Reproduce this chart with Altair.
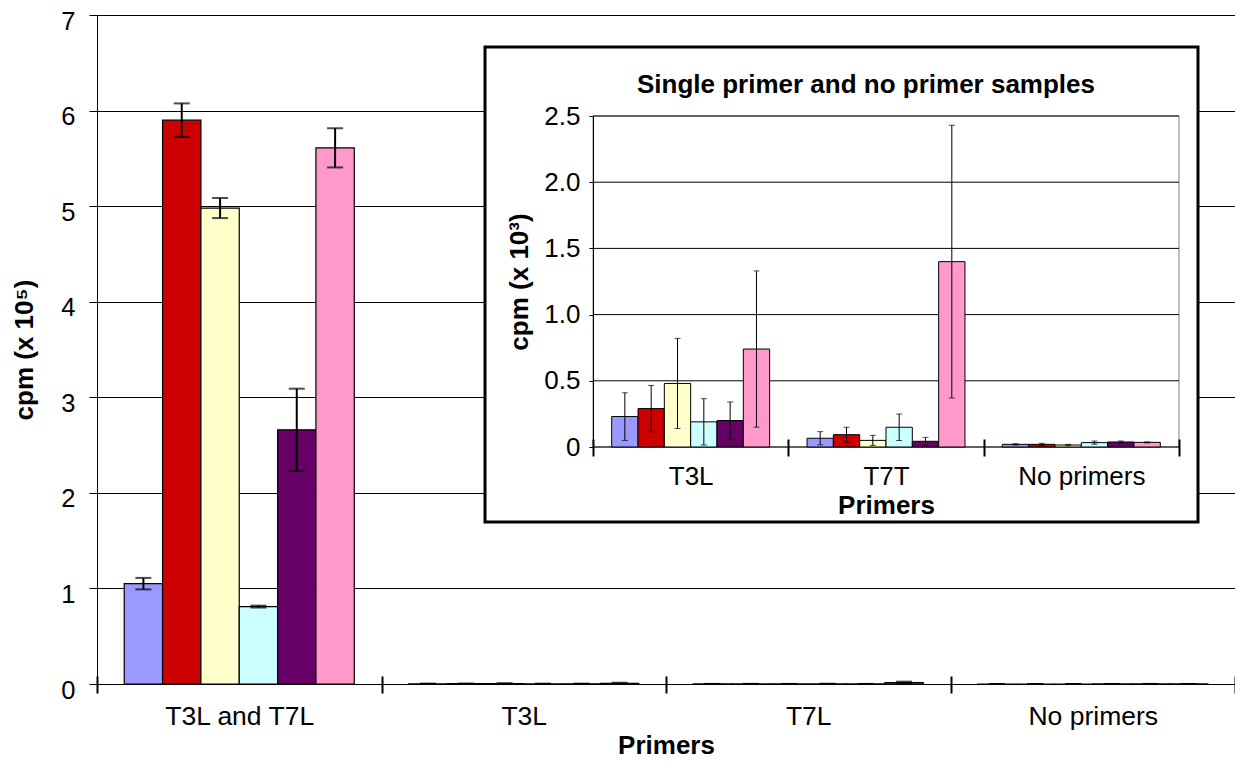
import altair as alt
import pandas as pd

FONT = "Liberation Sans"

series = ["Sample 1", "Sample 2", "Sample 3", "Sample 4", "Sample 5", "Sample 6"]
colors = ["#9999FF", "#CC0000", "#FFFFCC", "#CCFFFF", "#660066", "#FF99CC"]

# ---- main chart (cpm x 10^5) ----
main_categories = ["T3L and T7L", "T3L", "T7L", "No primers"]
main_t3l_t7l = [1.05, 5.90, 4.98, 0.81, 2.66, 5.61]
main_t3l_t7l_err = [0.06, 0.175, 0.105, 0.01, 0.43, 0.205]
main_t3l = [0.0023, 0.0029, 0.0048, 0.0019, 0.0020, 0.0074]
main_t3l_err = [0.0018, 0.0018, 0.0034, 0.0018, 0.0014, 0.0059]
main_t7l = [0.0007, 0.0009, 0.0005, 0.0015, 0.0004, 0.0140]
main_t7l_err = [0.0005, 0.0006, 0.0004, 0.0010, 0.0003, 0.0103]
main_none = [0.0002, 0.0002, 0.00015, 0.0003, 0.0004, 0.0003]
main_none_err = [0.00005, 0.00008, 0.00005, 0.00012, 0.00007, 0.00004]
main_ticks = [0, 1, 2, 3, 4, 5, 6, 7]

# ---- inset chart (cpm x 10^3) ----
inset_categories = ["T3L", "T7T", "No primers"]
inset_t3l = [0.23, 0.29, 0.48, 0.19, 0.20, 0.74]
inset_t3l_err = [0.18, 0.175, 0.34, 0.175, 0.14, 0.59]
inset_t7t = [0.066, 0.093, 0.05, 0.149, 0.043, 1.40]
inset_t7t_err = [0.05, 0.056, 0.038, 0.10, 0.03, 1.03]
inset_none = [0.020, 0.020, 0.015, 0.033, 0.038, 0.035]
inset_none_err = [0.005, 0.008, 0.005, 0.012, 0.007, 0.004]
inset_ticks = [0, 0.5, 1.0, 1.5, 2.0, 2.5]


def build(cats, vals, errs):
    rows = []
    for c, v_list, e_list in zip(cats, vals, errs):
        for s, v, e in zip(series, v_list, e_list):
            rows.append({"category": c, "series": s, "value": v, "err": e})
    return pd.DataFrame(rows)


main_df = build(main_categories,
                [main_t3l_t7l, main_t3l, main_t7l, main_none],
                [main_t3l_t7l_err, main_t3l_err, main_t7l_err, main_none_err])
inset_df = build(inset_categories,
                 [inset_t3l, inset_t7t, inset_none],
                 [inset_t3l_err, inset_t7t_err, inset_none_err])

# layout constants (plot-area pixel coordinates)
W, H = 1138, 669
IX0, IX1, IY0, IY1 = 496, 1082, 101, 432          # inset plot area
BX0, BX1, BY0, BY1 = 388, 1101, 32, 507           # inset frame

color = alt.Color("series:N", sort=series,
                  scale=alt.Scale(domain=series, range=colors), legend=None)

# ---------- main ----------
x_main_axis = alt.Axis(title="Primers", orient="bottom", offset=-8, domain=False,
                       tickBand="extent", tickSize=17, tickWidth=2, tickColor="black",
                       labelAngle=0, labelFontSize=26.5, labelPadding=10,
                       titleFontSize=26, titleFontWeight="bold", titlePadding=3,
                       grid=False)
x_main = alt.X("category:N", sort=main_categories,
               scale=alt.Scale(domain=main_categories, paddingInner=0, paddingOuter=0),
               axis=x_main_axis)
xo_main = alt.XOffset("series:N", sort=series,
                      scale=alt.Scale(domain=series, paddingInner=0, paddingOuter=0.71))
y_main_scale = alt.Scale(domain=[0, 7], nice=False)
y_main_axis = alt.Axis(values=main_ticks, title="cpm (x 10⁵)", format="d",
                       grid=True, gridColor="black", gridWidth=1,
                       domainColor="black", tickColor="black", tickSize=8,
                       labelFontSize=25.5, labelPadding=14, labelOffset=6,
                       titleFontSize=26, titleFontWeight="bold", titlePadding=23)

base_main = alt.Chart(main_df).transform_calculate(
    lo="datum.value - datum.err", hi="datum.value + datum.err")

bars_main = base_main.mark_bar(stroke="black", strokeWidth=1.2).encode(
    x=x_main, xOffset=xo_main,
    y=alt.Y("value:Q", scale=y_main_scale, axis=y_main_axis), color=color)
err_main = base_main.mark_rule(color="black", strokeWidth=2).encode(
    x=x_main, xOffset=xo_main,
    y=alt.Y("lo:Q", scale=y_main_scale, axis=y_main_axis), y2="hi:Q")
cap_lo_main = base_main.mark_tick(color="black", thickness=2, size=16).encode(
    x=x_main, xOffset=xo_main, y=alt.Y("lo:Q", scale=y_main_scale, axis=y_main_axis))
cap_hi_main = base_main.mark_tick(color="black", thickness=2, size=16).encode(
    x=x_main, xOffset=xo_main, y=alt.Y("hi:Q", scale=y_main_scale, axis=y_main_axis))

main = alt.layer(bars_main, err_main, cap_lo_main, cap_hi_main)

# ---------- inset ----------
x_inset_axis = alt.Axis(title="Primers", orient="bottom", offset=(IY1 - H) - 8, domain=False,
                        tickBand="extent", tickSize=17, tickWidth=2, tickColor="black",
                        labelAngle=0, labelFontSize=26, labelPadding=7,
                        titleFontSize=26, titleFontWeight="bold", titlePadding=3,
                        grid=False, zindex=1)
x_inset = alt.X("category:N", sort=inset_categories,
                scale=alt.Scale(domain=inset_categories, range=[IX0, IX1],
                                paddingInner=0, paddingOuter=0),
                axis=x_inset_axis)
xo_inset = alt.XOffset("series:N", sort=series,
                       scale=alt.Scale(domain=series, paddingInner=0, paddingOuter=0.71))
y_inset_scale = alt.Scale(domain=[0, 2.5], nice=False, range=[IY1, IY0])
y_inset_axis = alt.Axis(orient="left", offset=-IX0, values=inset_ticks,
                        labelExpr="datum.value == 0 ? '0' : format(datum.value, '.1f')",
                        title="cpm (x 10³)", grid=False, zindex=1,
                        domainColor="black", tickColor="black", tickSize=4,
                        labelFontSize=26, labelPadding=9,
                        titleFontSize=26, titleFontWeight="bold", titlePadding=11)

one = pd.DataFrame({"k": [0]})
frame = alt.Chart(one).mark_rect(fill="white", stroke="black", strokeWidth=3).encode(
    x=alt.value(BX0), x2=alt.value(BX1), y=alt.value(BY0), y2=alt.value(BY1))
plot_border = alt.Chart(one).mark_rect(filled=False, stroke="#808080", strokeWidth=1).encode(
    x=alt.value(IX0), x2=alt.value(IX1), y=alt.value(IY0), y2=alt.value(IY1))
grid_inset = alt.Chart(pd.DataFrame({"g": inset_ticks})).mark_rule(
    color="black", strokeWidth=1).encode(
    y=alt.Y("g:Q", scale=y_inset_scale, axis=y_inset_axis),
    x=alt.value(IX0), x2=alt.value(IX1))
title_inset = alt.Chart(one).mark_text(
    text="Single primer and no primer samples", fontSize=26, fontWeight="bold",
    font=FONT, align="center", baseline="alphabetic", color="black").encode(
    x=alt.value((IX0 + IX1) / 2 - 20), y=alt.value(78))

base_inset = alt.Chart(inset_df).transform_calculate(
    lo="datum.value - datum.err", hi="datum.value + datum.err")
bars_inset = base_inset.mark_bar(stroke="black", strokeWidth=1).encode(
    x=x_inset, xOffset=xo_inset,
    y=alt.Y("value:Q", scale=y_inset_scale, axis=y_inset_axis), color=color)
err_inset = base_inset.mark_rule(color="black", strokeWidth=1).encode(
    x=x_inset, xOffset=xo_inset,
    y=alt.Y("lo:Q", scale=y_inset_scale, axis=y_inset_axis), y2="hi:Q")
cap_lo_inset = base_inset.mark_tick(color="black", thickness=1, size=6).encode(
    x=x_inset, xOffset=xo_inset, y=alt.Y("lo:Q", scale=y_inset_scale, axis=y_inset_axis))
cap_hi_inset = base_inset.mark_tick(color="black", thickness=1, size=6).encode(
    x=x_inset, xOffset=xo_inset, y=alt.Y("hi:Q", scale=y_inset_scale, axis=y_inset_axis))

inset = alt.layer(frame, plot_border, grid_inset, bars_inset, err_inset,
                  cap_lo_inset, cap_hi_inset, title_inset)

chart = alt.layer(main, inset).resolve_scale(
    x="independent", y="independent", xOffset="independent"
).properties(
    width=W, height=H,
    padding={"left": 89, "top": 7, "right": 0, "bottom": 76},
    autosize=alt.AutoSizeParams(type="none"),
).configure_view(stroke=None).configure_axis(
    labelFont=FONT, titleFont=FONT, labelColor="black", titleColor="black"
).configure_text(font=FONT)

chart.save("out.html", embed_options={"renderer": "svg", "actions": False})
